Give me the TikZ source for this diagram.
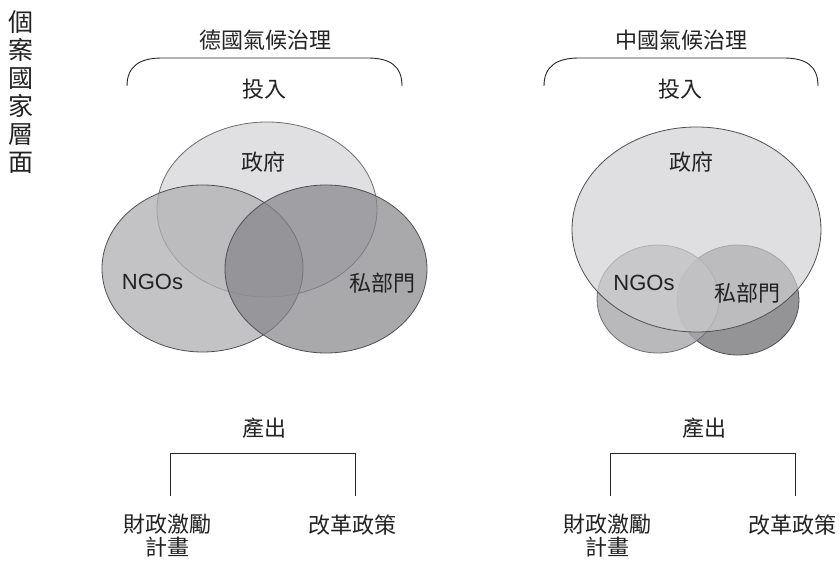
\documentclass[tikz,border=0pt]{standalone}
\usepackage{fontspec}
\setmainfont{Noto Sans CJK TC}
\newfontfamily\latinfont{Liberation Sans}
\definecolor{txt}{HTML}{222222}
\definecolor{govL}{HTML}{E0E0E2}
\definecolor{ngoL}{HTML}{B0B0B3}
\definecolor{privL}{HTML}{85858A}
\definecolor{lineD}{HTML}{505052}
\definecolor{lineG}{HTML}{6E6E70}
\definecolor{govR}{HTML}{D0D0D3}
\definecolor{ngoR}{HTML}{A8A8AB}
\definecolor{privR}{HTML}{949497}
\tikzset{
  lbl/.style={text=txt, font=\fontsize{22}{23}\selectfont, inner sep=0pt, align=center},
  vlbl/.style={text=txt, font=\fontsize{25}{28}\selectfont, inner sep=0pt, align=center},
  brk/.style={draw=black!85, line width=0.9pt},
  tree/.style={draw=black!85, line width=0.9pt},
  edge/.style={line width=0.8pt}
}
\begin{document}
\begin{tikzpicture}[x=1pt,y=-1pt]
\useasboundingbox (0,0) rectangle (839,561);
\fill[white] (0,0) rectangle (839,561);

% vertical side label
\node[vlbl] (side) at (21,92) {個\\案\\國\\家\\層\\面};

% ---------- Left: Germany ----------
\node[lbl] (tL) at (265,40) {德國氣候治理};
\coordinate (bLa) at (127,86);
\coordinate (bLb) at (402,86);
\draw[brk] (bLa) .. controls (127,66) and (140,58) .. (162,58) -- (368,58) .. controls (390,58) and (402,66) .. (bLb);
\node[lbl] (inL) at (264,89) {投入};

\draw[edge, draw=lineG, fill=govL] (267,209.5) ellipse [x radius=110pt, y radius=87.5pt];
\draw[edge, draw=lineD, fill=ngoL, fill opacity=0.75] (202.5,268.5) ellipse [x radius=100.5pt, y radius=83.5pt];
\draw[edge, draw=lineD, fill=privL, fill opacity=0.7] (326,269) ellipse [x radius=101pt, y radius=84pt];

\node[lbl] (govLn) at (263,162) {政府};
\node[lbl, font=\latinfont\fontsize{22}{23}\selectfont] (ngoLn) at (152.5,282) {NGOs};
\node[lbl] (privLn) at (382.5,283) {私部門};

\node[lbl] (outL) at (264,428) {產出};
\coordinate (oLa) at (170,496);
\coordinate (oLb) at (355,496);
\draw[tree] (oLa) -- (170,453) -- (355,453) -- (oLb);
\node[lbl] (finL) at (167,536) {財政激勵\\計畫};
\node[lbl] (refL) at (352.5,525) {改革政策};

% ---------- Right: China ----------
\node[lbl] (tR) at (681,40) {中國氣候治理};
\coordinate (bRa) at (544,86);
\coordinate (bRb) at (818,86);
\draw[brk] (bRa) .. controls (544,66) and (557,58) .. (579,58) -- (784,58) .. controls (806,58) and (818,66) .. (bRb);
\node[lbl] (inR) at (680,89) {投入};

\draw[edge, draw=lineD, fill=privR] (738,300) ellipse [x radius=61pt, y radius=55pt];
\draw[edge, draw=lineG, fill=ngoR, fill opacity=0.8] (658,299) ellipse [x radius=61pt, y radius=54pt];
\draw[edge, draw=lineD, fill=govR, fill opacity=0.67] (696.5,229.5) ellipse [x radius=124.5pt, y radius=102.5pt];

\node[lbl] (govRn) at (691,162) {政府};
\node[lbl, font=\latinfont\fontsize{22}{23}\selectfont] (ngoRn) at (644,283) {NGOs};
\node[lbl] (privRn) at (747.5,293) {私部門};

\node[lbl] (outR) at (704,428) {產出};
\coordinate (oRa) at (610,496);
\coordinate (oRb) at (795,496);
\draw[tree] (oRa) -- (610,453) -- (795,453) -- (oRb);
\node[lbl] (finR) at (607,536) {財政激勵\\計畫};
\node[lbl] (refR) at (792.5,525) {改革政策};
\end{tikzpicture}
\end{document}
